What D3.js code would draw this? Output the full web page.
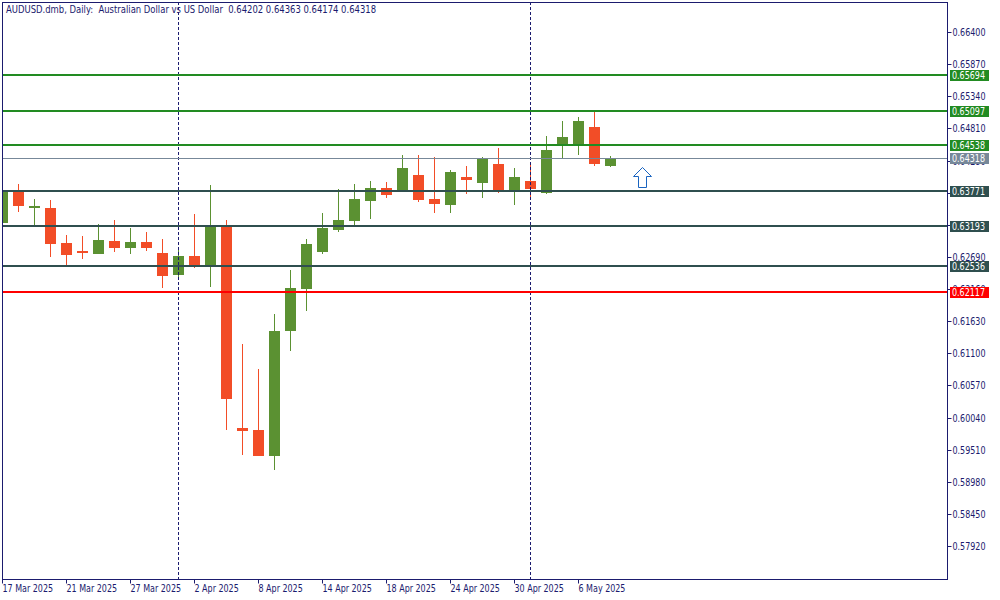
<!DOCTYPE html>
<html><head><meta charset="utf-8">
<script src="https://cdn.jsdelivr.net/npm/d3@7"></script>
<style>
body{margin:0;background:#fff}
svg{display:block}
text{font-family:'DejaVu Sans Condensed','DejaVu Sans',sans-serif;font-size:10px;white-space:pre}
</style>
</head><body><svg id="c" width="1000" height="600"></svg>
<script>
const title = "AUDUSD.dmb, Daily:  Australian Dollar vs US Dollar  0.64202 0.64363 0.64174 0.64318";
const dates = ["17 Mar 2025","18 Mar 2025","19 Mar 2025","20 Mar 2025","21 Mar 2025","24 Mar 2025","25 Mar 2025","26 Mar 2025","27 Mar 2025","28 Mar 2025","31 Mar 2025",
"1 Apr 2025","2 Apr 2025","3 Apr 2025","4 Apr 2025","7 Apr 2025","8 Apr 2025","9 Apr 2025","10 Apr 2025","11 Apr 2025","14 Apr 2025","15 Apr 2025","16 Apr 2025","17 Apr 2025","18 Apr 2025","21 Apr 2025","22 Apr 2025","23 Apr 2025","24 Apr 2025","25 Apr 2025","28 Apr 2025","29 Apr 2025","30 Apr 2025",
"1 May 2025","2 May 2025","5 May 2025","6 May 2025","7 May 2025","8 May 2025"];
const futureDates = ["9 May 2025","12 May 2025"];
const open  = [0.63261,0.63767,0.63509,0.63504,0.62927,0.62800,0.62750,0.62960,0.62849,0.62943,0.62762,0.62404,0.62712,0.62552,0.63212,0.59882,0.59849,0.59420,0.61481,0.62173,0.62783,0.63146,0.63294,0.63624,0.63833,0.63805,0.64048,0.63652,0.63558,0.64015,0.63921,0.64229,0.63789,0.63949,0.63756,0.64531,0.64564,0.64839,0.64202];
const high  = [0.63790,0.63899,0.63652,0.63635,0.63059,0.63042,0.63240,0.63306,0.63174,0.63108,0.62993,0.62833,0.63405,0.63883,0.63306,0.61267,0.60850,0.61756,0.62482,0.62993,0.63421,0.63817,0.63899,0.63949,0.63932,0.64377,0.64377,0.64344,0.64130,0.64196,0.64344,0.64493,0.64163,0.64262,0.64690,0.64938,0.65004,0.65119,0.64363];
const low   = [0.63250,0.63438,0.63195,0.62701,0.62569,0.62668,0.62745,0.62783,0.62750,0.62800,0.62190,0.62317,0.62519,0.62206,0.59849,0.59437,0.59415,0.59189,0.61151,0.61811,0.62750,0.63113,0.63212,0.63327,0.63673,0.63800,0.63607,0.63426,0.63426,0.63739,0.63673,0.63756,0.63558,0.63657,0.63739,0.64333,0.64382,0.64201,0.64174];
const close = [0.63784,0.63541,0.63537,0.62915,0.62734,0.62767,0.62976,0.62849,0.62943,0.62849,0.62388,0.62712,0.62552,0.63212,0.60360,0.59832,0.59420,0.61476,0.62190,0.62910,0.63174,0.63306,0.63652,0.63833,0.63723,0.64163,0.63640,0.63574,0.64097,0.63970,0.64311,0.63805,0.64015,0.63822,0.64460,0.64674,0.64938,0.64234,0.64318];
const yTicks = [0.66400,0.65870,0.65340,0.64810,0.64280,0.63750,0.63220,0.62690,0.62160,0.61630,0.61100,0.60570,0.60040,0.59510,0.58980,0.58450,0.57920];
const xTickDates = ["17 Mar 2025","21 Mar 2025","27 Mar 2025","2 Apr 2025","8 Apr 2025","14 Apr 2025","18 Apr 2025","24 Apr 2025","30 Apr 2025","6 May 2025"];
const separatorDates = ["1 Apr 2025","1 May 2025"];
const levelPrices = [0.65694,0.65097,0.64538,0.63771,0.63193,0.62536,0.62117];
const levelKinds  = ["target","target","target","support","support","support","stop"];
const bidPrice = 0.64318;
const arrowDate = "12 May 2025";
const arrowPrice = 0.64174;

const kindColor = {target:"#228b22", support:"#2f4f4f", stop:"#ff0000"};
const upColor = "#5b9132", downColor = "#f24d27";
const fg = "#1b1b6e";

const svg = d3.select("#c");
const L = 3, R = 947, T = 2, B = 579;

const x = d3.scalePoint().domain(dates.concat(futureDates)).range([2.5, 642.5]);
const y = d3.scaleLinear().domain([0.57920, 0.66400]).range([546.5, 32.5]);

svg.append("defs").append("clipPath").attr("id","plot")
  .append("rect").attr("x",L).attr("y",T+1).attr("width",R-L).attr("height",B-T-1);

const plot = svg.append("g").attr("clip-path","url(#plot)");

// candles
const data = dates.map((d,i)=>({d,o:open[i],h:high[i],l:low[i],c:close[i]}));
const cg = plot.append("g");
data.forEach(k=>{
  const col = k.c >= k.o ? upColor : downColor;
  const cx = x(k.d);
  cg.append("line").attr("x1",cx).attr("x2",cx)
    .attr("y1",Math.round(y(k.h))).attr("y2",Math.round(y(k.l)))
    .attr("stroke",col).attr("stroke-width",1);
  const t = Math.round(y(Math.max(k.o,k.c))), b = Math.round(y(Math.min(k.o,k.c)));
  cg.append("rect").attr("x",cx-5.5).attr("y",t).attr("width",11).attr("height",Math.max(2,b-t)).attr("fill",col);
});

// period separators
separatorDates.forEach(d=>{
  plot.append("line").attr("x1",x(d)).attr("x2",x(d)).attr("y1",T).attr("y2",B)
    .attr("stroke",fg).attr("stroke-width",1).attr("stroke-dasharray","3,2");
});

// horizontal levels
levelPrices.forEach((p,i)=>{
  const yy = Math.floor(y(p));
  plot.append("line").attr("x1",L).attr("x2",R).attr("y1",yy).attr("y2",yy)
    .attr("stroke",kindColor[levelKinds[i]]).attr("stroke-width",2);
});
const by = Math.floor(y(bidPrice))+0.5;
plot.append("line").attr("x1",L).attr("x2",R).attr("y1",by).attr("y2",by)
  .attr("stroke","#778899").attr("stroke-width",1);

// arrow
const ax = x(arrowDate), ay = Math.round(y(arrowPrice))+0.5;
plot.append("path")
  .attr("d",`M${ax},${ay} L${ax+9},${ay+9} L${ax+4},${ay+9} L${ax+4},${ay+20} L${ax-4},${ay+20} L${ax-4},${ay+9} L${ax-9},${ay+9} Z`)
  .attr("fill","#fff").attr("stroke","#1a64c0").attr("stroke-width",1);

// frame
svg.append("rect").attr("x",2.5).attr("y",2.5).attr("width",945).attr("height",577)
  .attr("fill","none").attr("stroke",fg).attr("stroke-width",1);

const texts = [];
// right axis
const yAxis = svg.append("g").attr("transform","translate(947.5,0)");
yTicks.forEach(v=>{
  const yy = Math.floor(y(v))+0.5;
  yAxis.append("line").attr("x1",0).attr("x2",4).attr("y1",yy).attr("y2",yy).attr("stroke",fg);
  texts.push(yAxis.append("text").attr("x",5).attr("y",yy+3.5).attr("fill",fg).text(d3.format(".5f")(v)));
});

// bottom axis
const xAxis = svg.append("g").attr("transform","translate(0,579.5)");
xTickDates.forEach(d=>{
  const xx = Math.floor(x(d))+0.5;
  xAxis.append("line").attr("x1",xx).attr("x2",xx).attr("y1",0).attr("y2",4).attr("stroke",fg);
  texts.push(xAxis.append("text").attr("x",xx).attr("y",12.5).attr("fill",fg).text(d));
});

// price labels
function priceLabel(p,color,yy){
  svg.append("rect").attr("x",950).attr("y",yy-5).attr("width",39).attr("height",11).attr("fill",color);
  texts.push(svg.append("text").attr("x",952).attr("y",yy+4).attr("fill","#fff").text(d3.format(".5f")(p)));
}
levelPrices.forEach((p,i)=>priceLabel(p,kindColor[levelKinds[i]],Math.floor(y(p))));
priceLabel(bidPrice,"#778899",Math.floor(y(bidPrice)));

// calibrate widths to a compact Tahoma-like look
const ref = texts[0].node().getComputedTextLength();
const f = 33/ref;
texts.forEach(t=>{
  const w = t.node().getComputedTextLength();
  t.attr("textLength",w*f).attr("lengthAdjust","spacingAndGlyphs");
});

// title
svg.append("text").attr("x",6).attr("y",13).attr("fill",fg).text(title)
  .attr("textLength",370).attr("lengthAdjust","spacingAndGlyphs");
</script></body></html>
